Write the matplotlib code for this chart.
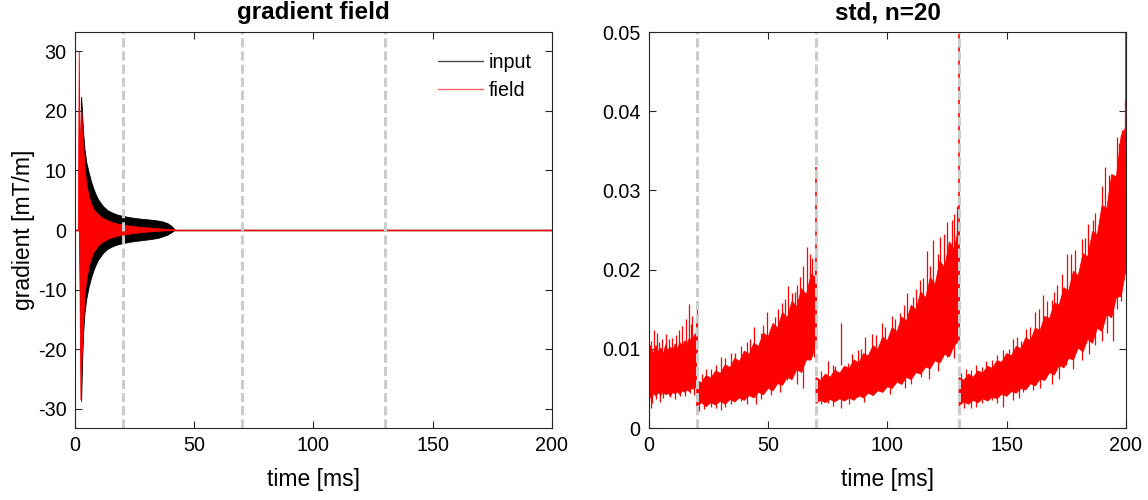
import numpy as np
import matplotlib
matplotlib.use("Agg")
import matplotlib.pyplot as plt

plt.rcParams['font.family'] = ['Liberation Sans', 'DejaVu Sans']
plt.rcParams['axes.unicode_minus'] = False

# ---------------- data: left panel envelopes (ms, mT/m) ----------------
input_up_t = [1.9, 2.2, 2.8, 3.2, 3.6, 4.2, 5, 6, 7, 8, 9, 10, 12, 14, 16, 18, 20, 24, 28, 32, 35, 37, 39, 40.5, 41.5, 42]
input_up_v = [0, 10, 22.3, 19.5, 16.5, 13.5, 11.2, 9.5, 8.0, 6.8, 5.8, 5.0, 3.9, 3.2, 2.8, 2.5, 2.3, 2.0, 1.8, 1.65, 1.5, 1.35, 1.05, 0.65, 0.25, 0]
input_lo_t = [1.9, 2.4, 2.8, 3.2, 3.6, 4.2, 5, 6, 7, 8, 9, 10, 12, 14, 16, 18, 20, 24, 28, 32, 35, 37, 39, 40.5, 41.5, 42]
input_lo_v = [0, -12, -28.8, -22, -17.5, -14, -11.5, -9.5, -8.0, -6.8, -5.8, -5.0, -3.9, -3.2, -2.8, -2.5, -2.3, -2.0, -1.8, -1.6, -1.4, -1.15, -0.85, -0.5, -0.2, 0]

field_up_t = [1.4, 1.8, 2.2, 2.8, 3.5, 4.2, 5, 6, 7, 8, 10, 12, 14, 16, 18, 20, 24, 28, 32, 36, 40, 42]
field_up_v = [0, 30, 12, 20, 15, 10.5, 7.5, 5.5, 4.3, 3.4, 2.5, 1.9, 1.5, 1.2, 1.0, 0.85, 0.6, 0.42, 0.3, 0.18, 0.06, 0]
field_lo_t = [1.9, 2.5, 3.0, 3.5, 4.2, 5, 6, 7, 8, 10, 12, 14, 16, 18, 20, 24, 28, 32, 36, 40, 42]
field_lo_v = [0, -28.5, -21, -16.5, -11, -8.2, -6.0, -4.7, -3.7, -2.6, -2.0, -1.55, -1.25, -1.05, -0.9, -0.62, -0.45, -0.3, -0.17, -0.06, 0]

# ---------------- data: right panel (std, n=20) ----------------
# ragged body of the noisy trace, per segment between switching times
s1_t = [0, 1, 2, 3, 4, 5, 6, 7, 8, 9, 10, 11, 12, 13, 14, 15, 16, 17, 18, 19, 20]
s1_up = [0.0090, 0.0100, 0.0094, 0.0104, 0.0096, 0.0101, 0.0093, 0.0105, 0.0098, 0.0102, 0.0097,
         0.0106, 0.0100, 0.0108, 0.0103, 0.0110, 0.0106, 0.0114, 0.0108, 0.0117, 0.0120]
s1_lo = [0.0045, 0.0036, 0.0044, 0.0040, 0.0045, 0.0041, 0.0046, 0.0042, 0.0044, 0.0040, 0.0045,
         0.0043, 0.0046, 0.0042, 0.0047, 0.0045, 0.0048, 0.0046, 0.0050, 0.0049, 0.0053]

s2_t = [20, 22, 24, 26, 28, 30, 32, 34, 36, 38, 40, 42, 44, 46, 48, 50, 52, 54, 56, 58, 60, 62, 64, 66, 68, 70]
s2_up = [0.0060, 0.0057, 0.0066, 0.0063, 0.0072, 0.0069, 0.0080, 0.0076, 0.0088, 0.0084, 0.0097, 0.0093,
         0.0107, 0.0103, 0.0120, 0.0115, 0.0132, 0.0126, 0.0146, 0.0139, 0.0160, 0.0153, 0.0176, 0.0168,
         0.0194, 0.0190]
s2_lo = [0.0028, 0.0032, 0.0027, 0.0032, 0.0029, 0.0034, 0.0030, 0.0036, 0.0033, 0.0038, 0.0035, 0.0041,
         0.0038, 0.0045, 0.0042, 0.0050, 0.0047, 0.0056, 0.0054, 0.0064, 0.0061, 0.0074, 0.0070, 0.0086,
         0.0086, 0.0105]

s3_t = [70, 72, 74, 76, 78, 80, 82, 84, 86, 88, 90, 92, 94, 96, 98, 100, 102, 104, 106, 108, 110, 112,
        114, 116, 118, 120, 122, 124, 126, 128, 130]
s3_up = [0.0064, 0.0060, 0.0068, 0.0064, 0.0073, 0.0069, 0.0078, 0.0075, 0.0086, 0.0082, 0.0094, 0.0091,
         0.0104, 0.0099, 0.0115, 0.0110, 0.0127, 0.0121, 0.0140, 0.0135, 0.0155, 0.0149, 0.0172, 0.0164,
         0.0190, 0.0181, 0.0211, 0.0202, 0.0235, 0.0226, 0.0255]
s3_lo = [0.0031, 0.0035, 0.0032, 0.0036, 0.0033, 0.0037, 0.0034, 0.0038, 0.0035, 0.0041, 0.0038, 0.0044,
         0.0041, 0.0047, 0.0045, 0.0052, 0.0050, 0.0058, 0.0055, 0.0064, 0.0061, 0.0070, 0.0068, 0.0077,
         0.0075, 0.0085, 0.0082, 0.0093, 0.0090, 0.0104, 0.0110]

s4_t = [130, 132, 134, 136, 138, 140, 142, 144, 146, 148, 150, 152, 154, 156, 158, 160, 162, 164, 166,
        168, 170, 172, 174, 176, 178, 180, 182, 184, 186, 188, 190, 192, 194, 196, 198, 200]
s4_up = [0.0064, 0.0060, 0.0068, 0.0064, 0.0072, 0.0069, 0.0078, 0.0075, 0.0085, 0.0083, 0.0094, 0.0091,
         0.0103, 0.0100, 0.0114, 0.0110, 0.0126, 0.0123, 0.0141, 0.0138, 0.0158, 0.0155, 0.0177, 0.0173,
         0.0198, 0.0192, 0.0220, 0.0216, 0.0248, 0.0244, 0.0281, 0.0277, 0.0320, 0.0317, 0.0369, 0.0380]
s4_lo = [0.0028, 0.0033, 0.0030, 0.0035, 0.0032, 0.0037, 0.0034, 0.0039, 0.0037, 0.0043, 0.0040, 0.0046,
         0.0044, 0.0050, 0.0048, 0.0056, 0.0053, 0.0062, 0.0060, 0.0070, 0.0067, 0.0079, 0.0076, 0.0088,
         0.0086, 0.0101, 0.0096, 0.0112, 0.0107, 0.0126, 0.0122, 0.0144, 0.0139, 0.0165, 0.0166, 0.0200]

# upward noise spikes (time, tip value)
up_t = [0.4, 1.0, 2.1, 3.2, 4.3, 5.6, 7.0, 8.4, 9.8, 11.2, 12.6, 14.0, 15.4, 16.8, 17.5, 18.2, 19.6, 19.95,
        22.4, 24, 26, 28, 30, 32, 34.2, 36, 38.4, 41, 42.5, 44, 46.8, 48, 49.6, 52.8, 54, 55.6, 57, 58.4,
        60, 61.2, 62, 63.3, 64.7, 66.2, 67.5, 68.3, 69.7,
        72, 75, 77, 78, 80.5, 83.6, 85, 87.8, 89, 90.5, 93.4, 95, 97.6, 99, 101.7, 103, 105.2, 107, 108,
        110.8, 112, 113.6, 115, 116.4, 118, 119.2, 121, 122, 123.5, 124.8, 126.9, 128, 129,
        131, 133, 135, 137, 139.5, 141.5, 143.7, 146, 148.6, 150.9, 152.8, 154.5, 156.2, 158, 159.8,
        161.9, 163.5, 165.3, 167, 168.8, 170, 171.2, 173, 175.1, 176.9, 178.5, 181.4, 183, 184.2, 186,
        187, 189.8, 191.2, 193, 194, 196.1, 197, 198.2, 199.6]
up_v = [0.0105, 0.0110, 0.0124, 0.0120, 0.0109, 0.0112, 0.0119, 0.0113, 0.0114, 0.0118, 0.0124, 0.0129,
        0.0137, 0.0156, 0.0131, 0.0141, 0.0138, 0.0160,
        0.0068, 0.0075, 0.0074, 0.0080, 0.0090, 0.0088, 0.0095, 0.0095, 0.0103, 0.0108, 0.0112, 0.0128,
        0.0120, 0.0130, 0.0147, 0.0140, 0.0150, 0.0158, 0.0163, 0.0179, 0.0170, 0.0172, 0.0180, 0.0191,
        0.0204, 0.0229, 0.0220, 0.0215, 0.0212,
        0.0072, 0.0084, 0.0080, 0.0078, 0.0132, 0.0082, 0.0094, 0.0098, 0.0100, 0.0115, 0.0119, 0.0118,
        0.0132, 0.0128, 0.0141, 0.0138, 0.0145, 0.0155, 0.0170, 0.0165, 0.0175, 0.0187, 0.0190, 0.0223,
        0.0205, 0.0237, 0.0220, 0.0241, 0.0245, 0.0260, 0.0262, 0.0270, 0.0280,
        0.0069, 0.0074, 0.0073, 0.0080, 0.0077, 0.0085, 0.0086, 0.0092, 0.0098, 0.0100, 0.0113, 0.0115,
        0.0110, 0.0125, 0.0128, 0.0147, 0.0150, 0.0168, 0.0160, 0.0161, 0.0172, 0.0180, 0.0195, 0.0220,
        0.0220, 0.0225, 0.0239, 0.0240, 0.0258, 0.0262, 0.0271, 0.0305, 0.0330, 0.0320, 0.0315, 0.0368,
        0.0360, 0.0376, 0.0414]

# downward noise spikes (time, tip value)
dn_t = [0.7, 1.4, 3, 4.5, 6, 9, 11, 13, 15, 17, 19,
        21, 23, 25.9, 28, 30, 32, 34.2, 38.4, 41, 45, 47, 51, 55, 58, 62, 64.4, 67, 69,
        72, 75, 77, 80.5, 84, 87.8, 90, 93.4, 97.6, 101, 107.5, 110, 114, 117.5, 121, 124.8, 128,
        132, 135, 137, 139.5, 143.7, 146, 148.6, 152.8, 155, 157, 161, 164, 168.8, 172, 175, 178,
        181.4, 184.5, 187, 190, 192, 194.5, 196.1, 198]
dn_v = [0.0025, 0.0031, 0.0036, 0.0033, 0.0038, 0.0039, 0.0036, 0.0041, 0.0040, 0.0044, 0.0042,
        0.0022, 0.0024, 0.0027, 0.0025, 0.0023, 0.0026, 0.0030, 0.0034, 0.0030, 0.0030, 0.0036, 0.0042,
        0.0046, 0.0060, 0.0055, 0.0050, 0.0086, 0.0090,
        0.0030, 0.0031, 0.0028, 0.0025, 0.0030, 0.0039, 0.0033, 0.0044, 0.0048, 0.0043, 0.0050, 0.0055,
        0.0064, 0.0062, 0.0072, 0.0090, 0.0088,
        0.0025, 0.0025, 0.0027, 0.0031, 0.0035, 0.0031, 0.0027, 0.0035, 0.0038, 0.0045, 0.0048, 0.0050,
        0.0056, 0.0062, 0.0080, 0.0075, 0.0086, 0.0093, 0.0105, 0.0110, 0.0120, 0.0110, 0.0150, 0.0160]

# boundary spikes of the std trace
spike_t = [0, 70, 130, 200]
spike_lo = [0.0050, 0.0100, 0.0105, 0.0195]
spike_hi = [0.0500, 0.0330, 0.0500, 0.0500]

# switching times (grey dashed lines)
switch_t = [20, 70, 130]

left_yticks = [-30, -20, -10, 0, 10, 20, 30]
right_yticks = [0, 0.01, 0.02, 0.03, 0.04, 0.05]
right_yticklabels = ['0', '0.01', '0.02', '0.03', '0.04', '0.05']
xticks = [0, 50, 100, 150, 200]

# ---------------- figure ----------------
fig = plt.figure(figsize=(11.48, 5.0), dpi=100)
axL = fig.add_axes([0.0653, 0.144, 0.4155, 0.792])
axR = fig.add_axes([0.5653, 0.144, 0.4155, 0.792])

RED = (1.0, 0.0, 0.0)
GREY = (0.8, 0.8, 0.8)
SPINE = (0.15, 0.15, 0.15)
dash = (0, (3.0, 1.3))
TICK_FS = 14.2
LABEL_FS = 16.5
TITLE_FS = 17.5


def poly(ax, tu, vu, tl, vl, color, z):
    xs = list(tu) + list(tl)[::-1]
    ys = list(vu) + list(vl)[::-1]
    ax.fill(xs, ys, color=color, lw=0.6, ec=color, zorder=z)


# left panel
axL.plot([0, 200], [0, 0], color='k', lw=1.0, zorder=2)
poly(axL, input_up_t, input_up_v, input_lo_t, input_lo_v, 'k', 2)
axL.plot([0, 200], [0, 0], color=RED, lw=1.0, zorder=3)
poly(axL, field_up_t, field_up_v, field_lo_t, field_lo_v, RED, 3)
axL.plot([], [], color=(0.3, 0.3, 0.3), lw=1.0, label='input')
axL.plot([], [], color=(1.0, 0.4, 0.4), lw=1.0, label='field')
for t in switch_t:
    axL.axvline(t, color=GREY, lw=2.2, linestyle=dash, zorder=4)
axL.set_xlim(0, 200)
axL.set_ylim(-33.2, 33.2)
axL.set_yticks(left_yticks)
axL.set_xticks(xticks)
axL.set_title('gradient field', fontsize=TITLE_FS, fontweight='bold', pad=9)
axL.set_xlabel('time [ms]', fontsize=LABEL_FS, labelpad=9)
axL.set_ylabel('gradient [mT/m]', fontsize=LABEL_FS, labelpad=2)
leg = axL.legend(loc='upper right', frameon=False, fontsize=TICK_FS, handlelength=2.3,
                 handletextpad=0.26, labelspacing=0.45, borderaxespad=0.6, borderpad=0.45)

# right panel
for tt, uu, ll in ((s1_t, s1_up, s1_lo), (s2_t, s2_up, s2_lo), (s3_t, s3_up, s3_lo), (s4_t, s4_up, s4_lo)):
    poly(axR, tt, uu, tt, ll, RED, 2)
up_v_arr = np.asarray(up_v)
dn_v_arr = np.asarray(dn_v)
axR.vlines(up_t, up_v_arr * 0.6, up_v_arr, color=RED, lw=0.9, zorder=2)
axR.vlines(dn_t, dn_v_arr, dn_v_arr * 1.8, color=RED, lw=0.9, zorder=2)
axR.vlines(spike_t, spike_lo, spike_hi, color=RED, lw=1.2, zorder=3)
for t in switch_t:
    axR.axvline(t, color=GREY, lw=2.2, linestyle=dash, zorder=4)
axR.set_xlim(0, 200)
axR.set_ylim(0, 0.05)
axR.set_yticks(right_yticks)
axR.set_yticklabels(right_yticklabels)
axR.set_xticks(xticks)
axR.set_title('std, n=20', fontsize=TITLE_FS, fontweight='bold', pad=9)
axR.set_xlabel('time [ms]', fontsize=LABEL_FS, labelpad=9)

for ax in (axL, axR):
    ax.tick_params(direction='in', top=True, right=True, length=5, width=0.8,
                   labelsize=TICK_FS, color=SPINE, labelcolor='k', pad=6)
    for s in ax.spines.values():
        s.set_color(SPINE)
        s.set_linewidth(0.8)
        s.set_zorder(5)

fig.savefig('out.png', dpi=100)
